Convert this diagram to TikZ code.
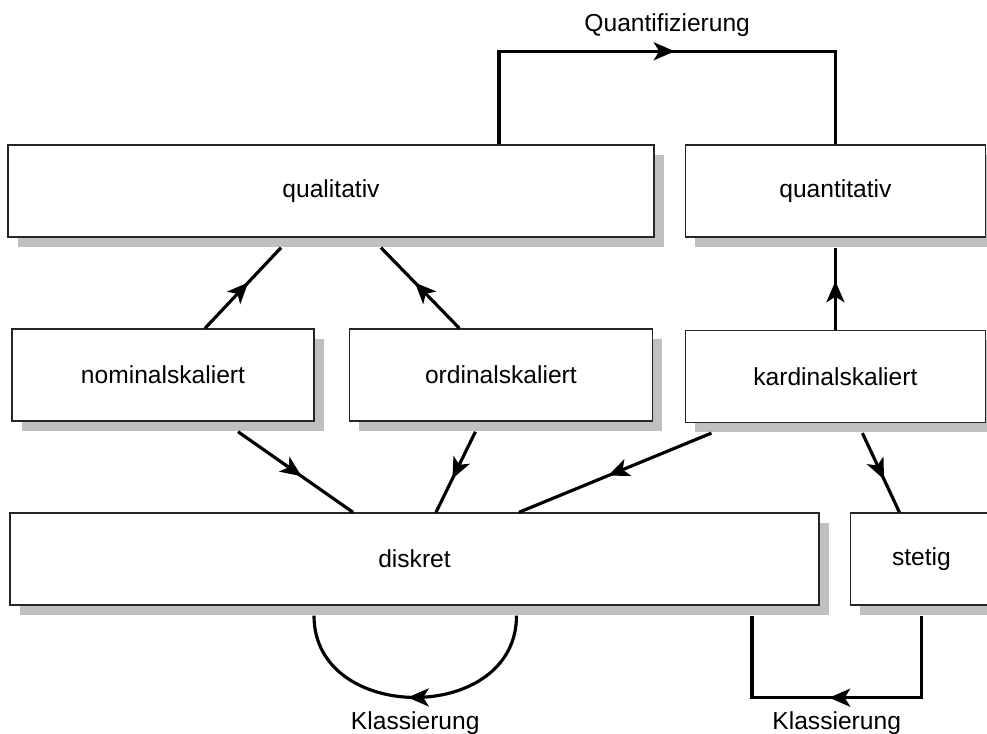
\documentclass[tikz,border=0pt]{standalone}
\usepackage{fontspec}
\setmainfont{Liberation Sans}
\usetikzlibrary{positioning, arrows.meta, shadows, decorations.markings}
\definecolor{ink}{HTML}{000000}
\definecolor{frame}{HTML}{262626}
\definecolor{shade}{HTML}{C0C0C0}
\tikzset{
  box/.style = {rectangle, draw=frame, line width=0.8pt, fill=white,
                minimum height=1.84cm, inner sep=0pt, align=center,
                font=\fontsize{14}{16}\selectfont,
                drop shadow={shadow xshift=2mm, shadow yshift=-2mm,
                             fill=shade, opacity=1}},
  ar/.style  = {draw=ink, line width=1.8pt, postaction={decorate},
                decoration={markings, mark=at position 0.5 with
                  {\pgftransformxshift{1.5mm}%
                   \arrow{Stealth[length=4.2mm, width=3.6mm, inset=1.1mm]}}}},
  lbl/.style = {font=\fontsize{14}{16}\selectfont, text=ink},
}

\begin{document}
\begin{tikzpicture}
  \path[use as bounding box, clip] (0,0) rectangle (19.74,-14.66);

  % Top row
  \node[box, minimum width=12.92cm] (qual) at (6.62,-3.82) {qualitativ};
  \node[box, minimum width=6.0cm, right=0.6cm of qual] (quant) {quantitativ};

  % Middle row
  \node[box, minimum width=6.04cm] (nom) at (3.26,-7.5) {nominalskaliert};
  \node[box, minimum width=6.06cm, right=0.68cm of nom] (ord) {ordinalskaliert};
  \node[box, minimum width=6.0cm, below=1.84cm of quant] (kard) {kardinalskaliert};

  % Bottom row
  \node[box, minimum width=16.18cm] (disk) at (8.29,-11.18) {diskret};
  \node[box, minimum width=2.84cm, right=0.6cm of disk] (stet) {stetig};

  % Quantifizierung
  \draw[ar] ([xshift=3.36cm]qual.north) -- ++(0,1.86)
    -| node[pos=0.25, above=1.4mm, lbl] (qtxt) {Quantifizierung} (quant.north);

  % Arrows up
  \draw[ar] ([xshift=0.84cm]nom.north) -- ([xshift=-1.0cm,yshift=-2mm]qual.south);
  \draw[ar] ([xshift=-0.83cm]ord.north) -- ([xshift=1.0cm,yshift=-2mm]qual.south);
  \draw[ar] (kard.north) -- ([yshift=-2mm]quant.south);

  % Arrows down
  \draw[ar] ([xshift=1.5cm,yshift=-2mm]nom.south) -- ([xshift=-1.23cm]disk.north);
  \draw[ar] ([xshift=-0.51cm,yshift=-2mm]ord.south) -- ([xshift=0.43cm]disk.north);
  \draw[ar] ([xshift=-2.48cm,yshift=-2mm]kard.south) -- ([xshift=2.09cm]disk.north);
  \draw[ar] ([xshift=0.54cm,yshift=-2mm]kard.south) -- ([xshift=-0.44cm]stet.north);

  % Klassierung
  \draw[ar] ([xshift=2.04cm,yshift=-2mm]disk.south)
    to[out=-90, in=-90, looseness=1.38]
    node[pos=0.5, below=1.4mm, lbl] (kl1) {Klassierung}
    ([xshift=-2.01cm,yshift=-2mm]disk.south);
  \draw[ar] ([yshift=-2mm]stet.south) -- ++(0,-1.64)
    -| node[pos=0.25, below=1.4mm, lbl] (kl2) {Klassierung}
    ([xshift=6.75cm,yshift=-2mm]disk.south);

\end{tikzpicture}
\end{document}
